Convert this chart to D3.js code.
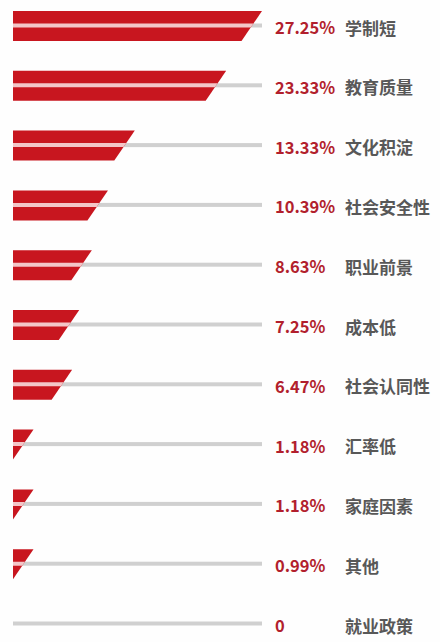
<!DOCTYPE html>
<html>
<head>
<meta charset="utf-8">
<script src="https://cdn.jsdelivr.net/npm/d3@7/dist/d3.min.js"></script>
<style>
  html, body { margin: 0; padding: 0; background: #fefefe; }
  svg { display: block; }
</style>
</head>
<body>
<svg id="chart" width="440" height="642"></svg>
<script>
const categories = ["学制短", "教育质量", "文化积淀", "社会安全性", "职业前景", "成本低", "社会认同性", "汇率低", "家庭因素", "其他", "就业政策"];
const values = [27.25, 23.33, 13.33, 10.39, 8.63, 7.25, 6.47, 1.18, 1.18, 0.99, 0];
const valueLabels = ["27.25%", "23.33%", "13.33%", "10.39%", "8.63%", "7.25%", "6.47%", "1.18%", "1.18%", "0.99%", "0"];

const svg = d3.select("#chart");
const x0 = 13, xEnd = 262;
const x = d3.scaleLinear().domain([0, 27.25]).range([x0, xEnd]);
const y = d3.scalePoint().domain(categories).range([25.5, 623.5]);

const barTop = 14.5, barBot = 15.5, barH = barTop + barBot;
const slant = 20.5;
const stripe = 2;

const rows = svg.selectAll("g.row")
  .data(categories.map((c, i) => ({ c, v: values[i], label: valueLabels[i] })))
  .join("g").attr("class", "row");

// gray track
rows.append("rect")
  .attr("x", x0)
  .attr("y", d => y(d.c) - stripe)
  .attr("width", xEnd - x0)
  .attr("height", stripe * 2)
  .attr("fill", "#d0d0d0");

function rightAt(d, yy) {
  // yy: offset from top of bar
  const topRight = Math.max(x(d.v), x0 + slant);
  return Math.max(topRight - slant * yy / barH, x0);
}

// red bar (parallelogram)
rows.filter(d => d.v > 0).append("path")
  .attr("d", d => {
    const c = y(d.c), t = c - barTop, b = c + barBot;
    return d3.line()([[x0, t], [rightAt(d, 0), t], [rightAt(d, barH), b], [x0, b]]) + "Z";
  })
  .attr("fill", "#c8161f");

// pink stripe inside bar
rows.filter(d => d.v > 0).append("path")
  .attr("d", d => {
    const c = y(d.c), t = c - stripe, b = c + stripe;
    const ot = barTop - stripe, ob = barTop + stripe;
    return d3.line()([[x0, t], [rightAt(d, ot), t], [rightAt(d, ob), b], [x0, b]]) + "Z";
  })
  .attr("fill", "#f3c6c8");

// value labels
rows.append("text")
  .attr("x", 275)
  .attr("y", d => y(d.c) + 1.5)
  .attr("dominant-baseline", "central")
  .attr("font-family", "'Noto Sans CJK SC', 'Open Sans', sans-serif")
  .attr("font-weight", "bold")
  .attr("font-size", 16.5)
  .attr("fill", "#b21f2d")
  .text(d => d.label);

// category labels
rows.append("text")
  .attr("x", 345)
  .attr("y", d => y(d.c) + 1.5)
  .attr("dominant-baseline", "central")
  .attr("font-family", "'Noto Sans CJK SC', sans-serif")
  .attr("font-weight", "bold")
  .attr("font-size", 17)
  .attr("fill", "#585858")
  .text(d => d.c);
</script>
</body>
</html>
